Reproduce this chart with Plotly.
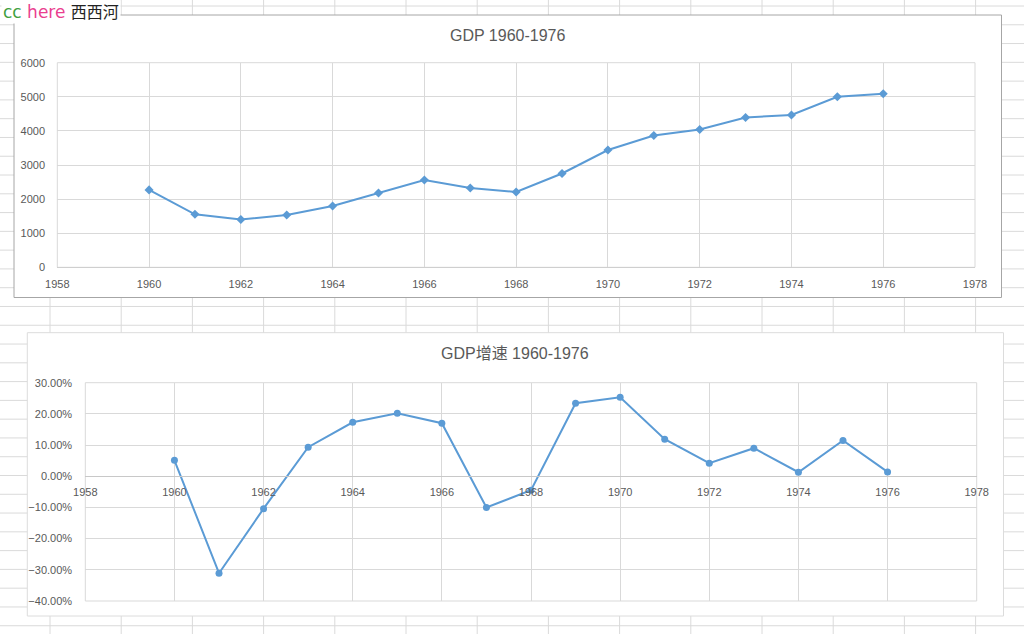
import plotly.graph_objects as go

years = list(range(1960, 1977))
gdp = [2270, 1554, 1402, 1534, 1798, 2179, 2560, 2326, 2208, 2751, 3440, 3865, 4041, 4393, 4466, 5003, 5091]
growth = [0.0513, -0.311, -0.104, 0.093, 0.173, 0.202, 0.170, -0.100, -0.045, 0.234, 0.253,
          0.119, 0.042, 0.090, 0.013, 0.115, 0.014]

title1 = "GDP 1960-1976"
title2 = "GDP增速 1960-1976"
x_ticks = list(range(1958, 1979, 2))
y1_ticks = list(range(0, 6001, 1000))
y2_ticks = [-0.4, -0.3, -0.2, -0.1, 0.0, 0.1, 0.2, 0.3]

W, H = 1024, 634
LINE = "#5b9bd5"
TXT = "#595959"
GRID = "#d9d9d9"
FONT = "Liberation Sans, Noto Sans CJK SC"


def px(x):
    return x / W


def py(y):
    return 1 - y / H


fig = go.Figure()

fig.add_trace(go.Scatter(x=years, y=gdp, mode="lines+markers",
                         line=dict(color=LINE, width=2),
                         marker=dict(symbol="diamond", size=7, color=LINE),
                         xaxis="x", yaxis="y", showlegend=False))
fig.add_trace(go.Scatter(x=years, y=growth, mode="lines+markers",
                         line=dict(color=LINE, width=2),
                         marker=dict(symbol="circle", size=7, color=LINE),
                         xaxis="x2", yaxis="y2", showlegend=False))

shapes = []
# spreadsheet background grid
for k in range(14):
    x = 50 + 71.2 * k
    shapes.append(dict(type="line", xref="paper", yref="paper", x0=px(x), x1=px(x), y0=0, y1=1,
                       line=dict(color="#dadada", width=1), layer="below"))
for k in range(34):
    y = 6 + 18.78 * k
    shapes.append(dict(type="line", xref="paper", yref="paper", x0=0, x1=1, y0=py(y), y1=py(y),
                       line=dict(color="#dadada", width=1), layer="below"))
# chart boxes
shapes.append(dict(type="rect", xref="paper", yref="paper", x0=px(14), x1=px(1001.5), y0=py(297.5), y1=py(15),
                   fillcolor="white", line=dict(color="#a6a6a6", width=1), layer="below"))
shapes.append(dict(type="rect", xref="paper", yref="paper", x0=px(27.3), x1=px(1003.5), y0=py(616), y1=py(332.7),
                   fillcolor="white", line=dict(color="#dcdcdc", width=1), layer="below"))
# plot-area borders (edge gridlines)
shapes.append(dict(type="rect", xref="x domain", yref="y domain", x0=0, x1=1, y0=0, y1=1,
                   line=dict(color=GRID, width=1), layer="below"))
shapes.append(dict(type="rect", xref="x2 domain", yref="y2 domain", x0=0, x1=1, y0=0, y1=1,
                   line=dict(color=GRID, width=1), layer="below"))

d1x = [px(57.3), px(975)]
d1y = [py(267.3), py(62.7)]
d2x = [px(85.3), px(976.7)]
d2y = [py(601), py(382.7)]
pos0 = d2y[0] + (d2y[1] - d2y[0]) * (0.4 / 0.7)

axfont = dict(family=FONT, size=11, color=TXT)

fig.update_layout(
    template="none",
    width=W, height=H,
    margin=dict(l=0, r=0, t=0, b=0, pad=0, autoexpand=False),
    paper_bgcolor="white", plot_bgcolor="rgba(0,0,0,0)",
    shapes=shapes,
    xaxis=dict(domain=d1x, anchor="y", range=[1958, 1978], tickvals=x_ticks, automargin=False,
               showgrid=True, gridcolor=GRID, gridwidth=1, zeroline=False,
               showline=True, linecolor="#cfcfcf", linewidth=1, mirror=False,
               ticks="outside", ticklen=6, tickcolor="rgba(0,0,0,0)",
               tickfont=axfont),
    yaxis=dict(domain=d1y, anchor="x", range=[0, 6000], tickvals=y1_ticks, automargin=False,
               showgrid=True, gridcolor=GRID, gridwidth=1, zeroline=False, showline=False,
               ticks="outside", ticklen=9, tickcolor="rgba(0,0,0,0)",
               tickfont=axfont),
    xaxis2=dict(domain=d2x, anchor="free", position=pos0, range=[1958, 1978], tickvals=x_ticks,
                automargin=False,
                showgrid=True, gridcolor=GRID, gridwidth=1, zeroline=False,
                showline=True, linecolor="#c8c8c8", linewidth=1,
                ticks="outside", ticklen=6, tickcolor="rgba(0,0,0,0)",
                tickfont=axfont),
    yaxis2=dict(domain=d2y, anchor="x2", range=[-0.4, 0.3], tickvals=y2_ticks, tickformat=".2%",
                automargin=False,
                showgrid=True, gridcolor=GRID, gridwidth=1, zeroline=False, showline=False,
                ticks="outside", ticklen=10, tickcolor="rgba(0,0,0,0)",
                tickfont=axfont),
    annotations=[
        dict(text=title1, xref="paper", yref="paper", x=px(507), y=py(36), showarrow=False,
             xanchor="center", yanchor="middle", font=dict(family=FONT, size=16, color=TXT)),
        dict(text=title2, xref="paper", yref="paper", x=px(515), y=py(353.5), showarrow=False,
             xanchor="center", yanchor="middle", font=dict(family=FONT, size=16, color=TXT)),
        dict(text="<span style='color:#3f9f3f'>cc</span> <span style='color:#ea3f8f'>here</span> "
                  "<span style='color:#222222;font-size:16px'>西西河</span>",
             xref="paper", yref="paper", x=0, y=1, xanchor="left", yanchor="top", showarrow=False,
             bgcolor="white", borderpad=1, xshift=1, yshift=0,
             font=dict(family="DejaVu Sans, Noto Sans CJK SC", size=17)),
    ],
)

fig.write_html("out.html")
